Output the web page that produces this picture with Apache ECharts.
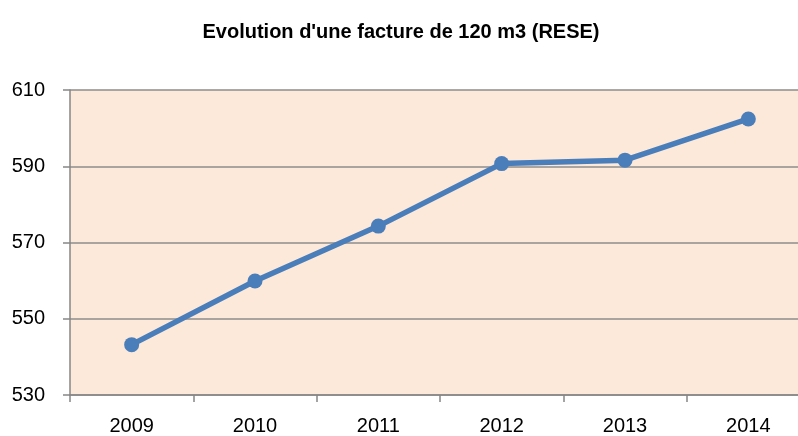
<!DOCTYPE html>
<html>
<head>
<meta charset="utf-8">
<script src="https://cdn.jsdelivr.net/npm/echarts@6/dist/echarts.min.js"></script>
<style>
html,body{margin:0;padding:0;background:#fff;overflow:hidden;width:798px;height:436px;}
#c{width:810px;height:436px;}
</style>
</head>
<body>
<div id="c"></div>
<script>
const titleText = "Evolution d'une facture de 120 m3 (RESE)";
const categories = ["2009", "2010", "2011", "2012", "2013", "2014"];
const values = [543.2, 559.9, 574.3, 590.7, 591.6, 602.4];
const yTicks = [530, 550, 570, 590, 610];

const chart = echarts.init(document.getElementById('c'), null, {renderer: 'canvas'});
chart.setOption({
  animation: false,
  backgroundColor: '#ffffff',
  title: {
    text: titleText,
    left: 396,
    textAlign: 'center',
    top: 17,
    textStyle: {fontFamily: 'Liberation Sans', fontWeight: 'bold', fontSize: 20, color: '#000'}
  },
  grid: {
    left: 70, top: 90, right: 0, bottom: 41,
    show: true, backgroundColor: '#fde9d9', borderWidth: 0
  },
  xAxis: {
    type: 'category',
    data: categories,
    boundaryGap: true,
    axisLine: {show: true, lineStyle: {color: '#868686', width: 1.5}},
    axisTick: {show: true, length: 7, alignWithLabel: false, lineStyle: {color: '#868686', width: 1.5}},
    axisLabel: {margin: 21, fontFamily: 'Liberation Sans', fontSize: 20, color: '#000'},
    splitLine: {show: false}
  },
  yAxis: {
    type: 'value',
    min: yTicks[0],
    max: yTicks[yTicks.length - 1],
    interval: 20,
    axisLine: {show: true, lineStyle: {color: '#868686', width: 1.5}},
    axisTick: {show: true, length: 7, lineStyle: {color: '#868686', width: 1.5}},
    axisLabel: {margin: 25, fontFamily: 'Liberation Sans', fontSize: 20, color: '#000'},
    splitLine: {show: true, lineStyle: {color: '#8c8c8c', width: 1.5}}
  },
  series: [{
    type: 'line',
    data: values,
    symbol: 'circle',
    symbolSize: 15,
    itemStyle: {color: '#4a7ebb'},
    lineStyle: {color: '#4a7ebb', width: 5.5},
    z: 3
  }]
});
</script>
</body>
</html>
